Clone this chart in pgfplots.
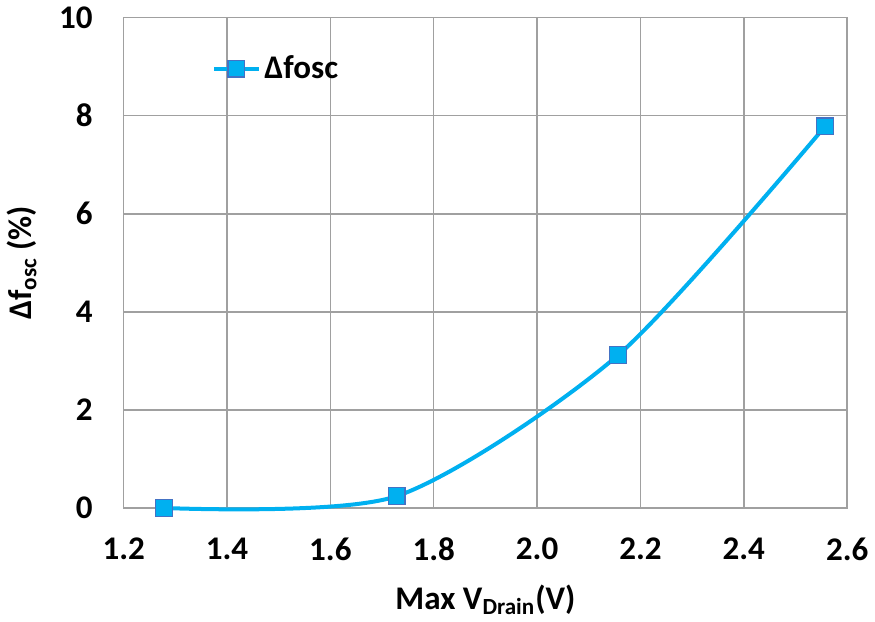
\documentclass[border=0pt]{standalone}
\usepackage{fontspec}
\setmainfont{Carlito}
\usepackage{pgfplots}
\pgfplotsset{compat=1.18}
\definecolor{linecyan}{RGB}{0,176,240}
\definecolor{markedge}{RGB}{68,114,196}
\definecolor{gridgray}{RGB}{160,160,160}
\newcommand{\chartfont}{\fontsize{16.5}{20}\selectfont\bfseries}
\begin{document}
\begin{tikzpicture}
\begin{axis}[
  scale only axis,
  width=361.5pt, height=245pt,
  xmin=1.2, xmax=2.6, ymin=0, ymax=10,
  clip=false,
  xtick={1.2,1.4,1.6,1.8,2.0,2.2,2.4,2.6},
  ytick={0,2,4,6,8,10},
  grid=major,
  major grid style={gridgray, line width=0.75pt},
  axis line style={gridgray, line width=0.75pt},
  major tick length=0pt,
  /pgf/number format/assume math mode=true,
  tick label style={font=\chartfont, text=black},
  xticklabel style={yshift=-11.5pt, /pgf/number format/.cd, fixed, fixed zerofill, precision=1},
  yticklabel style={xshift=-12pt, /pgf/number format/.cd, fixed, precision=0},
  xlabel={Max V\textsubscript{Drain}(V)},
  ylabel={Δf\textsubscript{osc} (\%)},
  xlabel style={font=\chartfont, at={(axis description cs:0.5,0)}, anchor=north, yshift=-35pt},
  every axis y label/.style={at={(axis description cs:0,0.5)}, anchor=south, rotate=90, yshift=40pt, font=\chartfont},
  legend style={draw=none, fill=none, at={(rel axis cs:0.122,0.896)}, anchor=west, font=\chartfont, inner sep=0pt},
  legend image code/.code={\draw[#1, mark repeat=2, mark phase=2] plot coordinates {(0pt,0pt) (11pt,0pt) (22pt,0pt)};},
]
\addplot[linecyan, line width=2pt, smooth, tension=0.45,
  mark=square*, mark size=4.2pt,
  mark options={fill=linecyan, draw=markedge, line width=0.6pt}]
  coordinates {
    (1.278, 0.00)
    (1.728, 0.24)
    (2.157, 3.12)
    (2.557, 7.78)
  };
\addlegendentry{Δfosc}
\end{axis}
\end{tikzpicture}
\end{document}
